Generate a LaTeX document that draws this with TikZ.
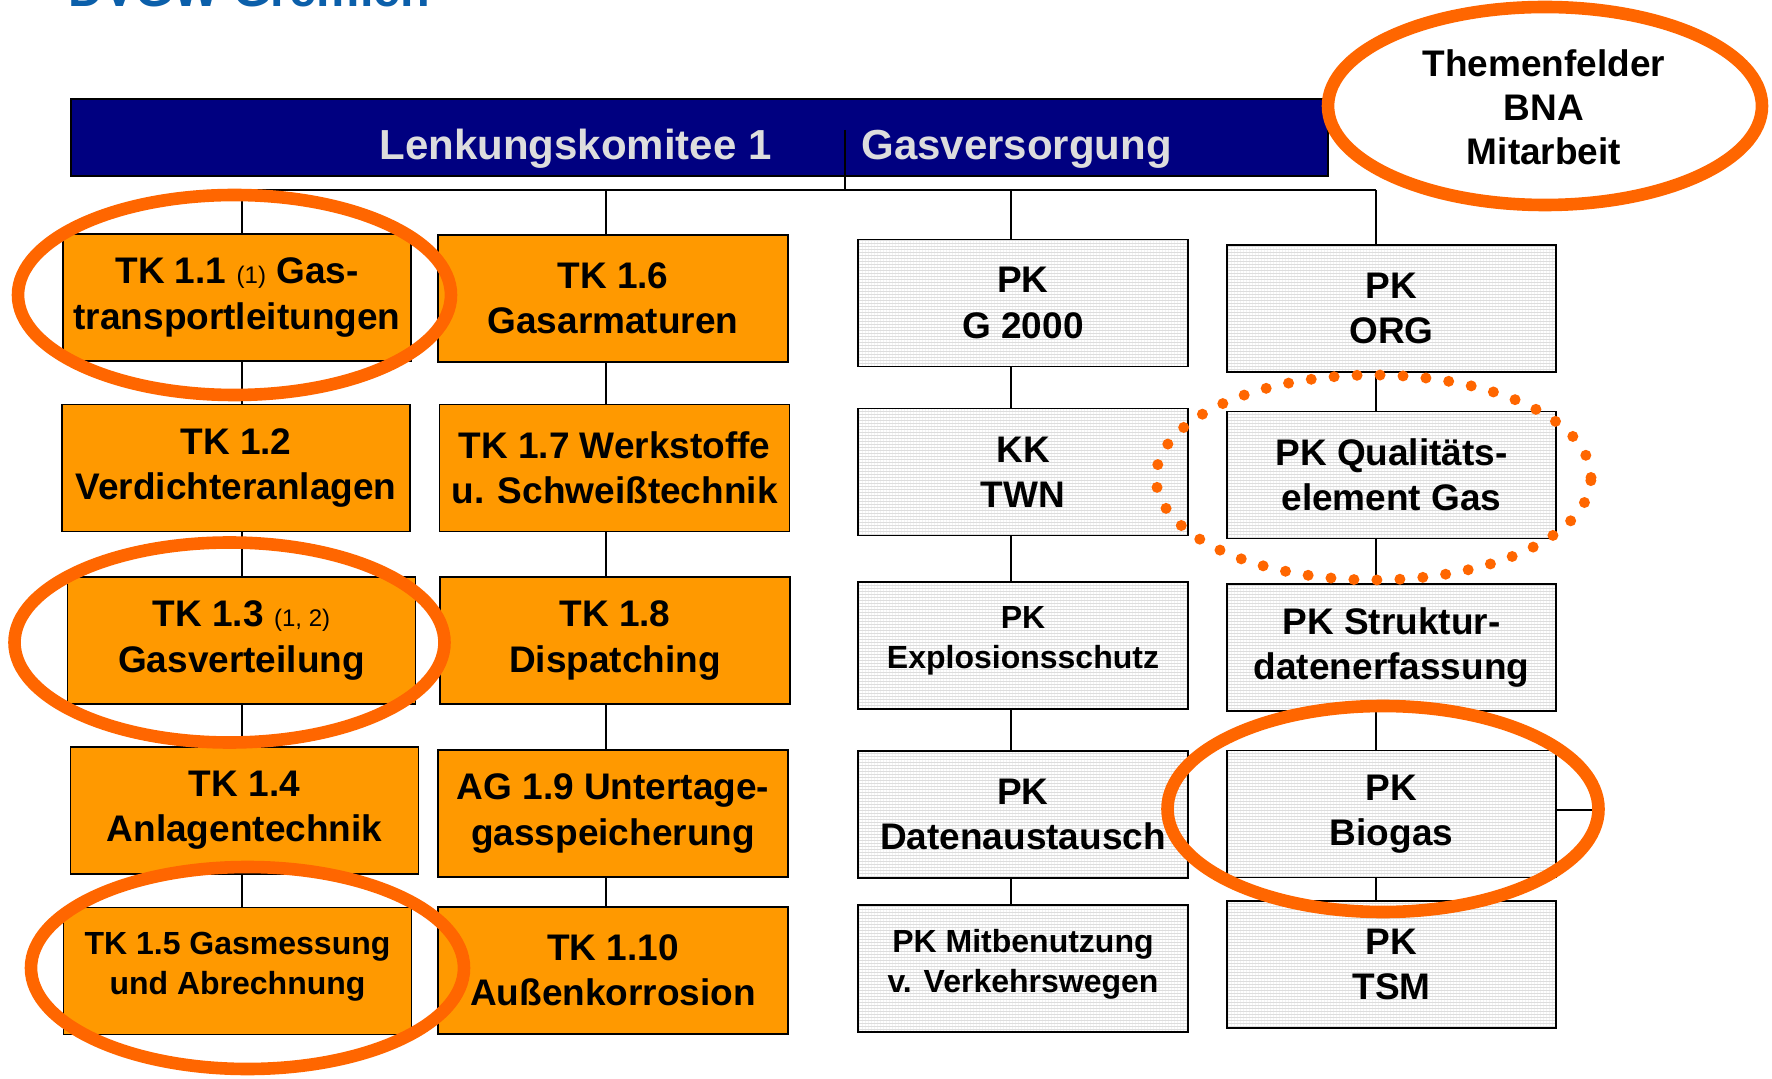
\documentclass[tikz,border=0pt]{standalone}
\usepackage{fontspec}
\setmainfont{Liberation Sans}
\usetikzlibrary{patterns.meta}
\definecolor{boxorange}{HTML}{FF9900}
\definecolor{ringorange}{HTML}{FF6600}
\definecolor{navybar}{HTML}{000080}
\definecolor{hdrtext}{HTML}{DDDDDD}
\definecolor{titleblue}{HTML}{0B5FAA}
\definecolor{graybase}{HTML}{DDDDDD}
\newcommand{\lkbig}{\bfseries\fontsize{18.5}{22.6}\selectfont}
\newcommand{\lksmall}{\bfseries\fontsize{16}{20}\selectfont}
\newcommand{\lknote}[1]{{\mdseries\fontsize{12}{14}\selectfont #1}}
\begin{document}
\begin{tikzpicture}[x=0.5pt,y=-0.5pt,
  conn/.style={line width=0.8pt, draw=black},
  obox/.style={draw=black, line width=0.8pt, fill=boxorange, inner sep=0pt, minimum height=63.5pt, align=center, font=\lkbig},
  gbox/.style={draw=black, line width=0.9pt, preaction={fill=graybase}, pattern={Lines[angle=0,distance=1.5pt,line width=0.75pt]}, pattern color=white, inner sep=0pt, minimum width=165pt, minimum height=63.5pt, align=center, font=\lkbig},
  gboxr/.style={gbox, minimum width=164.5pt},
  lowtext/.style={font=\lksmall, text depth=8pt},
  ring/.style={draw=ringorange, line width=6.3pt},
  dotring/.style={draw=ringorange, line width=5.5pt, line cap=round, dash pattern=on 0pt off 11.5pt},
]
\clip (0,0) rectangle (1772,1079);
\fill[white] (0,0) rectangle (1772,1079);

% title (cut off at the top)
\node[anchor=base west, inner sep=0pt, text=titleblue, font=\bfseries\fontsize{24.3}{28}\selectfont] (title) at (68,7) {DVGW Gremien};

% header bar
\node[draw=black, line width=0.8pt, fill=navybar, minimum width=628.5pt, minimum height=38.5pt, inner sep=0pt] (hdr) at (699.5,137.5) {};
\node[anchor=base, inner sep=0pt, text=hdrtext, font=\bfseries\fontsize{21}{25}\selectfont] (hdrl) at (575.5,160) {Lenkungskomitee 1};
\node[anchor=base west, inner sep=0pt, text=hdrtext, font=\bfseries\fontsize{21}{25}\selectfont] (hdrr) at (861,160) {Gasversorgung};
\coordinate (divtop) at (845,130);
\coordinate (hub) at (845,190);
\draw[conn] (divtop) -- (hub);

% column junctions
\coordinate (c1) at (242,190);
\coordinate (c2) at (606,190);
\coordinate (c3) at (1011,190);
\coordinate (c4) at (1376,190);
\draw[conn] (c1) -- (c4);

% column 1
\node[obox, minimum width=174pt] (tk11) at (237,297.5) {TK 1.1 \lknote{(1)} Gas-\\transportleitungen};
\node[obox, minimum width=174pt] (tk12) at (236,468) {TK 1.2\\Verdichteranlagen};
\node[obox, minimum width=174pt] (tk13) at (241.5,640.5) {TK 1.3 \lknote{(1, 2)}\\Gasverteilung};
\node[obox, minimum width=174pt] (tk14) at (244.5,810.5) {TK 1.4\\Anlagentechnik};
\node[obox, lowtext, minimum width=174pt] (tk15) at (237.5,971) {TK 1.5 Gasmessung\\und Abrechnung};

% column 2
\node[obox, minimum width=175pt] (tk16) at (613,298.5) {TK 1.6\\Gasarmaturen};
\node[obox, minimum width=175pt] (tk17) at (614.5,468) {TK 1.7 Werkstoffe\\u. Schweißtechnik};
\node[obox, minimum width=175pt] (tk18) at (615,640.5) {TK 1.8\\Dispatching};
\node[obox, minimum width=175pt] (ag19) at (613,813.5) {AG 1.9 Untertage-\\gasspeicherung};
\node[obox, minimum width=175pt] (tk110) at (613,970.5) {TK 1.10\\Außenkorrosion};

% column 3
\node[gbox] (pkg) at (1023,303) {PK\\G 2000};
\node[gbox] (kk) at (1023,472) {KK\\TWN};
\node[gbox, lowtext] (pkex) at (1023,645.5) {PK\\Explosionsschutz};
\node[gbox] (pkda) at (1023,814.5) {PK\\Datenaustausch};
\node[gbox, lowtext] (pkmi) at (1023,968.5) {PK Mitbenutzung\\v. Verkehrswegen};

% column 4
\node[gboxr] (org) at (1391.5,308.5) {PK\\ORG};
\node[gboxr] (qual) at (1391.5,475) {PK Qualitäts-\\element Gas};
\node[gboxr] (strukt) at (1391.5,647.5) {PK Struktur-\\datenerfassung};
\node[gboxr] (bio) at (1391.5,814) {PK\\Biogas};
\node[gboxr] (tsm) at (1391.5,964.5) {PK\\TSM};

% connectors column 1
\draw[conn] (c1) -- (c1 |- tk11.north);
\draw[conn] (c1 |- tk11.south) -- (c1 |- tk12.north);
\draw[conn] (c1 |- tk12.south) -- (c1 |- tk13.north);
\draw[conn] (c1 |- tk13.south) -- (c1 |- tk14.north);
\draw[conn] (c1 |- tk14.south) -- (c1 |- tk15.north);
% column 2
\draw[conn] (c2) -- (c2 |- tk16.north);
\draw[conn] (c2 |- tk16.south) -- (c2 |- tk17.north);
\draw[conn] (c2 |- tk17.south) -- (c2 |- tk18.north);
\draw[conn] (c2 |- tk18.south) -- (c2 |- ag19.north);
\draw[conn] (c2 |- ag19.south) -- (c2 |- tk110.north);
% column 3
\draw[conn] (c3) -- (c3 |- pkg.north);
\draw[conn] (c3 |- pkg.south) -- (c3 |- kk.north);
\draw[conn] (c3 |- kk.south) -- (c3 |- pkex.north);
\draw[conn] (c3 |- pkex.south) -- (c3 |- pkda.north);
\draw[conn] (c3 |- pkda.south) -- (c3 |- pkmi.north);
% column 4
\draw[conn] (c4) -- (c4 |- org.north);
\draw[conn] (c4 |- org.south) -- (c4 |- qual.north);
\draw[conn] (c4 |- qual.south) -- (c4 |- strukt.north);
\draw[conn] (c4 |- strukt.south) -- (c4 |- bio.north);
\draw[conn] (c4 |- bio.south) -- (c4 |- tsm.north);
\coordinate (biostub) at (1597,810);
\draw[conn] (bio.east |- biostub) -- (biostub);

% highlight rings
\node[inner sep=0pt, align=center, font=\bfseries\fontsize{18.5}{22}\selectfont] (them) at (1544,107) {Themenfelder\\BNA\\Mitarbeit};
\draw[ring] (1545,106) ellipse [x radius=108.5pt, y radius=49.5pt];
\draw[ring] (234.5,295) ellipse [x radius=108.25pt, y radius=50pt];
\draw[ring] (229.5,642.5) ellipse [x radius=107.5pt, y radius=50pt];
\draw[ring] (247.5,968) ellipse [x radius=108.25pt, y radius=50.5pt];
\draw[ring] (1383,809) ellipse [x radius=107.75pt, y radius=51.5pt];
\draw[dotring] (1373.5,477.5) ellipse [x radius=108.75pt, y radius=51.25pt];
\end{tikzpicture}
\end{document}
